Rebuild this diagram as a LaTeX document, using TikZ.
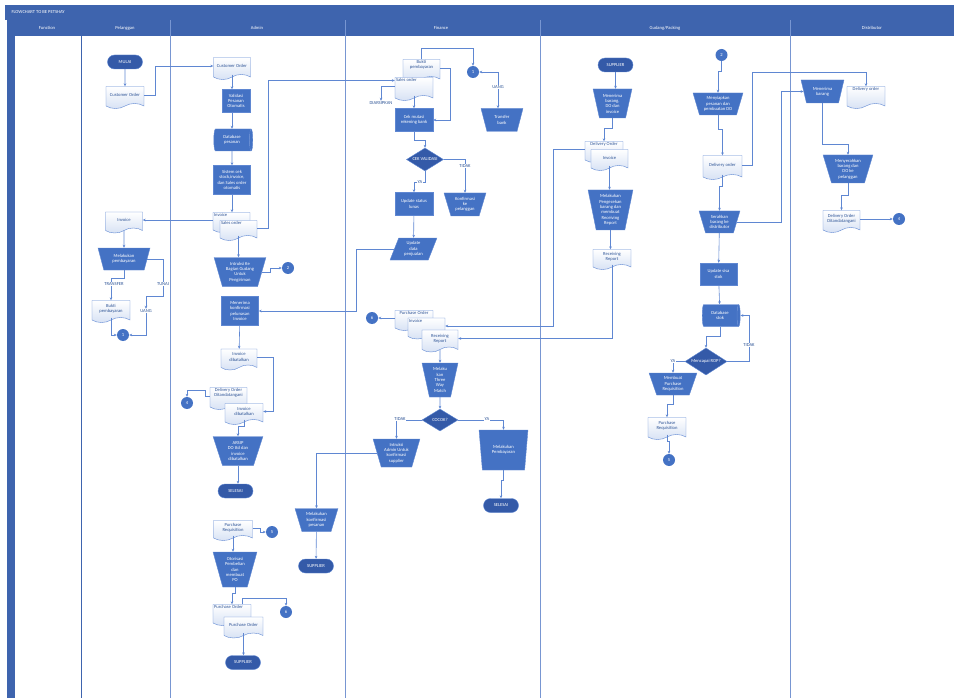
\documentclass[tikz,border=0pt]{standalone}
\usepackage{fontspec}
\setmainfont{Carlito}
\usepackage{tikz}
\usetikzlibrary{shapes, shapes.geometric, shapes.symbols, shapes.misc, arrows, arrows.meta, positioning, calc}

\definecolor{headblue}{RGB}{62,100,174}
\definecolor{fillblue}{RGB}{68,114,196}
\definecolor{darkblue}{RGB}{52,90,168}
\definecolor{lineblue}{RGB}{95,135,210}
\definecolor{textblue}{RGB}{47,85,151}
\definecolor{docshade}{RGB}{214,225,244}
\definecolor{laneline}{RGB}{120,150,210}

\tikzset{
  base/.style={font=\fontsize{4.6}{5.3}\selectfont, align=center, inner sep=1pt},
  proc/.style={base, rectangle, draw=lineblue, fill=fillblue, text=white, minimum width=37pt, minimum height=29pt},
  manual/.style={base, trapezium, trapezium stretches=true, shape border rotate=180,
    trapezium left angle=72, trapezium right angle=72, draw=lineblue, fill=fillblue, text=white,
    minimum width=50pt, minimum height=23pt},
  term/.style={base, rounded rectangle, draw=lineblue, fill=darkblue, text=white, minimum width=37pt, minimum height=14pt},
  doc/.style={base, tape, tape bend top=none, tape bend height=5pt, draw=lineblue, top color=white, bottom color=docshade, text=textblue, minimum width=37pt, minimum height=22pt},
  dtxt/.style={base, text=textblue, anchor=north},
  dec/.style={base, diamond, aspect=1.6, draw=lineblue, fill=darkblue, text=white, inner sep=0pt, minimum width=37pt, minimum height=23pt},
  conn/.style={base, circle, fill=fillblue, text=white, minimum size=12pt, inner sep=0pt},
  db/.style={base, cylinder, aspect=0.3, draw=lineblue, cylinder uses custom fill, cylinder body fill=fillblue, cylinder end fill=fillblue, text=white, minimum height=38pt, minimum width=22pt},
  dat/.style={base, trapezium, trapezium stretches=true, trapezium left angle=70, trapezium right angle=110, draw=lineblue, fill=fillblue, text=white, minimum width=47pt, minimum height=22pt},
  lbl/.style={base, text=textblue, fill=white, inner sep=0.5pt},
  flow/.style={draw=lineblue, line width=0.6pt, -{Stealth[length=3pt,width=2.6pt]}},
  lane/.style={draw=laneline, line width=0.8pt},
  head/.style={font=\fontsize{4.6}{5.3}\selectfont, text=white}
}

\begin{document}
\begin{tikzpicture}[x=1pt, y=-1pt]
\useasboundingbox (0,0) rectangle (954,698);
% swimlanes
\fill[headblue] (5,5) rectangle (954,20);
\fill[headblue] (7,20) rectangle (15,698);
\fill[headblue] (15,20) rectangle (954,36);
\node[head, anchor=west] (title) at (8,12.5) {FLOWCHART TO BE PETSHAY};
\foreach \x in {170,345,540,790}
  \draw[lane] (\x,20) -- (\x,698);
\draw[draw=headblue, line width=0.8pt] (81,20) -- (81,698);
\foreach \name/\x/\txt in {hFun/47/Function, hPel/125/Pelanggan, hAdm/257/Admin, hFin/441/Finance, hGud/665/{Gudang/Packing}, hDis/872/Distributor}
  \node[head] (\name) at (\x,28) {\txt};

% Pelanggan
\node[term] (mulai) at (125,62) {MULAI};
\node[doc, minimum width=38pt] (custP) at (125,95) {Customer Order};
\node[doc, minimum height=21pt] (invP) at (124,220) {Invoice};
\node[manual, minimum width=52pt, minimum height=22pt] (bayarP) at (124,259) {Melakukan\\pembayaran};
\node[doc, minimum width=38pt] (buktiP) at (111,309) {Bukti\\pembayaran};
\node[lbl] (uangP) at (146,311) {UANG};
\node[conn] (c1P) at (123,335) {1};

% Admin
\node[doc] (custA) at (232,66) {Customer Order};
\node[proc, minimum width=28pt, minimum height=23pt] (validA) at (236,101) {Validasi\\Pesanan\\Otomatis};
\node[db, minimum height=39pt] (dbA) at (232,140) {Database\\pesanan};
\node[proc] (cekA) at (232,180) {Sistem cek\\stock,invoice,\\dan Sales order\\otomatis};
\node[doc, minimum height=20pt, label={[dtxt, anchor=north west]north west:Invoice}] (invA) at (231.5,220) {};
\node[doc, minimum height=20pt, label={[dtxt, anchor=north west]north west:Sales order}] (soA) at (238.5,228) {};
\node[manual, minimum width=52pt, minimum height=29pt] (instrA) at (240,272) {Intruksi Ke\\Bagian Gudang\\Untuk\\Pengiriman};
\node[conn] (c2A) at (288,268) {2};
\node[proc] (konfA) at (240,311) {Menerima\\konfirmasi\\pelunasan\\Invoice};
\node[doc, minimum width=36pt, minimum height=21pt] (batal1A) at (239,357) {Invoice\\dibatalkan};
\node[doc, label={[dtxt]north:Delivery Order\\Ditandatangani}] (dottdA) at (228.5,396) {};
\node[doc, minimum width=38pt, minimum height=21pt] (batal2A) at (244,411.5) {Invoice\\dibatalkan};
\node[conn] (c4A) at (187,403) {4};
\node[manual, minimum height=29pt] (arsipA) at (238,451) {ARSIP\\DO ttd dan\\invoice\\dibatalkan};
\node[term] (selesaiA) at (235.5,491) {SELESAI};
\node[doc, minimum width=39pt, minimum height=20pt] (prA) at (233,528) {Purchase\\Requisition};
\node[conn] (c5A) at (272,532) {5};
\node[manual, minimum width=44pt, minimum height=35pt] (otorA) at (235,569.5) {Otorisasi\\Pembelian\\dan\\membuat\\PO};
\node[doc, minimum width=38pt, minimum height=21pt, label={[dtxt, anchor=north west]north west:Purchase Order}] (po1A) at (232,612.5) {};
\node[doc, minimum width=39pt, minimum height=21pt] (po2A) at (243.5,625) {Purchase Order};
\node[conn] (c6A) at (286,612) {6};
\node[term] (supA) at (243,662.5) {SUPPLIER};
\node[manual, minimum width=43pt] (konfpesA) at (316.5,520) {Melakukan\\konfirmasi\\pesanan};
\node[term] (sup2A) at (316,566) {SUPPLIER};

% Finance
\node[doc, label={[dtxt]north:Bukti\\pembayaran}] (buktiF) at (421.5,68) {};
\node[doc, minimum width=38pt, minimum height=23pt, label={[dtxt, anchor=north west]north west:Sales order}] (soF) at (414,86.5) {};
\node[conn] (c1F) at (473,72) {1};
\node[lbl] (uangF) at (498,87) {UANG};
\node[manual, minimum width=42pt] (transF) at (502,120) {Transfer\\bank};
\node[lbl] (arsipF) at (381,103) {DIARSIPKAN};
\node[proc, minimum width=38pt, minimum height=23pt] (mutasiF) at (414,120) {Cek mutasi\\rekening bank};
\node[dec] (validF) at (425,159.5) {CEK VALIDASI};
\node[manual, minimum width=42pt] (konfPelF) at (465,204.5) {Konfirmasi\\ke\\pelanggan};
\node[proc, minimum width=38pt, minimum height=23pt] (lunasF) at (414,204) {Update status\\lunas};
\node[dat] (updF) at (413.5,249) {Update\\data\\penjualan};
\node[doc, minimum width=38pt, minimum height=20pt, label={[dtxt]north:Purchase Order}] (po3F) at (414,318) {};
\node[doc, minimum height=21pt, label={[dtxt, anchor=north west]north west:Invoice}] (inv3F) at (426.5,326) {};
\node[doc, minimum width=36pt] (rr3F) at (440,338.5) {Receiving\\Report};
\node[conn] (c6F) at (372,318) {6};
\node[manual, minimum width=36pt, minimum height=34pt, trapezium left angle=78, trapezium right angle=78] (threeF) at (440,380) {Melaku\\kan\\Three\\Way\\Match};
\node[dec, minimum width=36pt, minimum height=22pt] (cocokF) at (440,420) {COCOK?};
\node[manual, minimum width=47pt, minimum height=28pt] (intrF) at (396.5,453) {Intruksi\\Admin Untuk\\konfirmasi\\supplier};
\node[manual, minimum width=49pt, minimum height=40pt, trapezium left angle=80, trapezium right angle=80] (bayarF) at (503.5,450) {Melakukan\\Pembayaran};
\node[term] (selesaiF) at (501,505.5) {SELESAI};

% Gudang/Packing
\node[term] (supG) at (615.5,65) {SUPPLIER};
\node[manual, minimum width=39pt, minimum height=29pt, trapezium left angle=76, trapezium right angle=76] (terimaG) at (612.5,103.5) {Menerima\\barang,\\DO dan\\invoice};
\node[doc, minimum width=38pt, minimum height=21pt, label={[dtxt]north:Delivery Order}] (doG) at (604,149.5) {};
\node[doc, minimum height=21pt] (invG) at (609.5,157.5) {Invoice};
\node[manual, minimum width=45pt, minimum height=40pt, trapezium left angle=78, trapezium right angle=78] (cekG) at (610.5,210) {Melakukan\\Pengecekan\\barang dan\\membuat\\Receiving\\Report};
\node[doc, minimum width=38pt, minimum height=20pt] (rrG) at (612,257) {Receiving\\Report};
\node[conn] (c2G) at (721.5,55) {2};
\node[manual, minimum width=50pt, minimum height=22pt] (siapG) at (718,104) {Menyiapkan\\pesanan dan\\pembuatan DO};
\node[doc, minimum width=39pt, minimum height=24pt] (dordG) at (722.5,165) {Delivery order};
\node[manual, minimum width=41pt, minimum height=22pt] (serahG) at (719.5,222) {Serahkan\\barang ke\\distributor};
\node[proc, minimum height=22pt] (stokG) at (718.5,274) {Update sisa\\stok};
\node[db] (dbG) at (720,315.5) {Database\\stok};
\node[dec, minimum width=42pt, minimum height=27pt] (ropG) at (706,361.5) {Mencapai ROP?};
\node[manual, minimum width=48pt, minimum height=22pt] (prG) at (673,384) {Membuat\\Purchase\\Requisition};
\node[doc, minimum width=38pt, minimum height=22pt] (prdocG) at (667,426) {Purchase\\Requisition};
\node[conn] (c5G) at (669,460) {5};

% Distributor
\node[manual, minimum width=43pt, minimum height=23pt] (terimaD) at (822.5,91.5) {Menerima\\barang};
\node[doc, minimum width=38pt, minimum height=22pt, label={[dtxt]north:Delivery order}] (doD) at (866,95) {};
\node[manual, minimum width=50pt, minimum height=28pt] (menyerahD) at (848,169) {Menyerahkan\\barang dan\\DO ke\\pelanggan};
\node[doc, minimum width=37pt, minimum height=22pt] (dottdD) at (841.5,219) {Delivery Order\\Ditandatangani};
\node[conn] (c4D) at (899,219) {4};

% connectors: Pelanggan
\draw[flow] (mulai) -- (custP);
\draw[flow] (custP.east) -- ++(11,0) |- (custA.west);
\draw[flow] (invA.west) -- (invP.east);
\draw[flow] (invP) -- (bayarP);
\draw[flow] (bayarP.south) -- ++(0,8) -| (buktiP.north);
\draw[flow] (bayarP.east) -- ++(16,0) -- ++(0,37) -| (uangP.north);
\draw[flow] (uangP.south) |- (c1P.east);
\draw[flow] (buktiP.south) |- (c1P.west);
\node[lbl] (trfP) at (114,284) {TRANSFER};
\node[lbl] (tunaiP) at (163,284) {TUNAI};

% connectors: Admin
\draw[flow] (custA.south) -- (custA.south |- validA.north);
\draw[flow] (custA.south |- validA.south) -- (custA.south |- dbA.north);
\draw[flow] (dbA.south) -- (cekA.north);
\draw[flow] (cekA.south) -- (cekA.south |- invA.north);
\draw[flow] (soA.south) -- (soA.south |- instrA.north);
\draw[flow] (soA.east) -- ++(11,0) |- ([yshift=6pt]soF.west);
\draw[flow] (instrA.east) -- ++(8,0) |- (c2A.west);
\draw[flow] (konfA) -- (batal1A);
\draw[flow] (batal1A.east) -- ++(16,0) |- (batal2A.east);
\draw[flow] (dottdA.west) -- ++(-5,0) -- ++(0,-6) -| (c4A.north);
\draw[flow] (batal2A.south) -- ++(0,7) -| (arsipA.north);
\draw[flow] (arsipA.south) -- (arsipA.south |- selesaiA.north);
\draw[flow] (prA.east) -- ++(8,0) |- (c5A.west);
\draw[flow] (prA.south) -- (prA.south |- otorA.north);
\draw[flow] (otorA.south) -- ++(0,6) -| (po1A.north);
\draw[flow] ([xshift=10pt]po1A.north) -- ++(0,-6) -| (c6A.north);
\draw[flow] (po2A.south) -- (po2A.south |- supA.north);
\draw[flow] (konfpesA) -- (sup2A);

% connectors: Finance
\draw[flow] (buktiF.north) -- ++(0,-11) -| (c1F.north);
\draw[flow] (buktiF.east) -- ++(10,0) |- (mutasiF.east);
\draw[flow] (uangF.north) |- (c1F.east);
\draw[flow] (uangF.south) -- (uangF.south |- transF.north);
\draw[flow] (soF.west) -| (arsipF.north);
\draw[flow] (soF.south) -- (mutasiF.north);
\draw[flow] (mutasiF.south) -- ++(0,9) -| (validF.north);
\draw[flow] (validF.east) -| (konfPelF.north);
\draw[flow] (validF.south) -- ++(0,11) -| (lunasF.north);
\draw[flow] (lunasF) -- (updF);
\draw[flow] (updF.west) -- ++(-38,0) |- (konfA.east);
\draw[flow] (po3F.west) -- (c6F.east);
\draw[flow] (rr3F) -- (threeF);
\draw[flow] (threeF) -- (cocokF);
\draw[flow] (cocokF.west) -| (intrF.north);
\draw[flow] (cocokF.east) -| (bayarF.north);
\draw[flow] (bayarF.south) -- ++(0,10) -| (selesaiF.north);
\draw[flow] (intrF.west) -| (konfpesA.north);
\node[lbl] (tidakF) at (465,166) {TIDAK};
\node[lbl] (yaF) at (420,182) {YA};
\node[lbl] (tidak2F) at (400,419) {TIDAK};
\node[lbl] (ya2F) at (487,419) {YA};

% connectors: Gudang/Packing
\draw[flow] (supG.south) -- (supG.south |- terimaG.north);
\draw[flow] (terimaG.south) -- ++(0,10) -| (doG.north);
\draw[flow] (invG.south) -- (invG.south |- cekG.north);
\draw[flow] (cekG.south) -- (cekG.south |- rrG.north);
\draw[flow] (doG.west) -- ++(-32,0) |- (inv3F.east);
\draw[flow] (rrG.south) |- (rr3F.east);
\draw[flow] (c2G.south) -- ++(0,10) -| (siapG.north);
\draw[flow] (siapG.south) -- ++(0,14) -| (dordG.north);
\draw[flow] (dordG.east) -- ++(10,0) -- ++(0,-93) -| (doD.north);
\draw[flow] (dordG.south) -- ++(0,12) -| (serahG.north);
\draw[flow] (serahG.east) -- ++(44,0) |- (terimaD.west);
\draw[flow] (serahG) -- (stokG);
\draw[flow] (stokG) -- (dbG);
\draw[flow] (dbG.south) -- ++(0,10) -| (ropG.north);
\draw[flow] (ropG.east) -- ++(22,0) |- (dbG.east);
\draw[flow] (ropG.west) -| (prG.north);
\draw[flow] (prG.south) -- ++(0,9) -| (prdocG.north);
\draw[flow] (prdocG.south) -- ++(0,7) -| (c5G.north);
\node[lbl] (yaG) at (673,361.5) {YA};
\node[lbl] (tidakG) at (749,345) {TIDAK};

% connectors: Distributor
\draw[flow] (terimaD.south) -- ++(0,41) -| (menyerahD.north);
\draw[flow] (menyerahD.south) -- ++(0,12) -| (dottdD.north);
\draw[flow] (dottdD.east) -- (c4D.west);
\end{tikzpicture}
\end{document}
